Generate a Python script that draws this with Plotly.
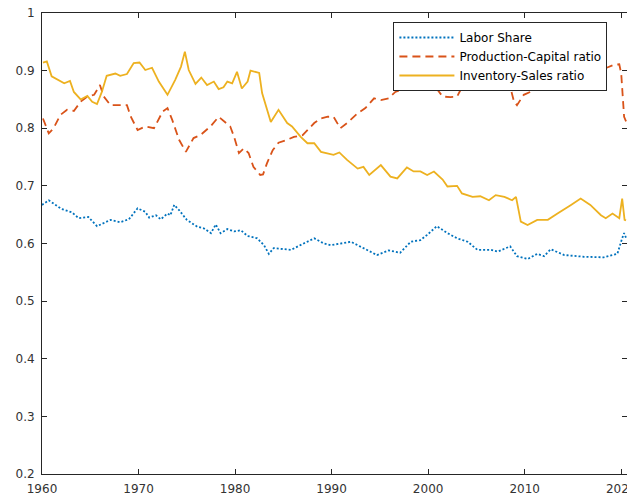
import plotly.graph_objects as go

# ---- data ----
labor_year = [1960.0, 1960.7, 1962.0, 1963.1, 1963.8, 1964.8, 1965.7, 1967.1, 1968.1, 1969.0,
              1969.9, 1970.7, 1971.1, 1971.8, 1972.3, 1973.0, 1973.3, 1973.7, 1974.2, 1975.0,
              1976.1, 1976.8, 1977.5, 1978.0, 1978.5, 1979.2, 1979.9, 1980.6, 1981.3, 1982.3,
              1983.0, 1983.5, 1984.0, 1985.8, 1987.1, 1988.2, 1989.2, 1989.9, 1992.0, 1993.3,
              1994.7, 1995.9, 1997.1, 1998.2, 1999.2, 1999.9, 2000.9, 2002.0, 2003.0, 2004.1,
              2005.1, 2006.5, 2007.2, 2008.5, 2009.2, 2010.3, 2011.3, 2012.0, 2012.7, 2014.1,
              2016.1, 2018.2, 2019.6, 2020.1, 2020.3, 2020.5]
labor_share = [0.667, 0.675, 0.660, 0.654, 0.644, 0.646, 0.630, 0.641, 0.637, 0.642,
               0.661, 0.655, 0.645, 0.649, 0.642, 0.652, 0.649, 0.667, 0.658, 0.641,
               0.629, 0.626, 0.618, 0.633, 0.618, 0.625, 0.621, 0.623, 0.613, 0.609,
               0.597, 0.582, 0.592, 0.589, 0.600, 0.609, 0.600, 0.597, 0.603, 0.592,
               0.580, 0.588, 0.584, 0.603, 0.606, 0.615, 0.630, 0.618, 0.609, 0.603,
               0.589, 0.589, 0.586, 0.595, 0.578, 0.573, 0.582, 0.578, 0.590, 0.580,
               0.577, 0.576, 0.582, 0.609, 0.618, 0.610]

pc_year = [1960.1, 1960.7, 1961.2, 1961.9, 1962.6, 1963.3, 1964.0, 1964.7, 1965.4, 1966.0,
           1966.4, 1967.1, 1967.8, 1968.8, 1969.2, 1969.9, 1970.7, 1971.6, 1972.5, 1973.0,
           1973.5, 1974.2, 1974.9, 1975.7, 1976.4, 1977.5, 1978.3, 1979.0, 1979.5, 1979.9,
           1980.4, 1980.9, 1981.4, 1981.9, 1982.6, 1982.9, 1983.3, 1983.9, 1984.5, 1985.4,
           1986.1, 1987.0, 1987.5, 1988.2, 1988.9, 1989.6, 1990.2, 1990.9, 1991.6, 1992.7,
           1993.5, 1994.4, 1995.1, 1995.9, 1996.6, 1997.5, 1998.5, 1999.0, 1999.6, 1999.9,
           2000.6, 2001.5, 2002.3, 2003.0, 2003.5, 2003.9, 2005.0, 2006.5, 2007.8, 2008.5,
           2008.9, 2009.2, 2009.9, 2011.0, 2011.7, 2012.4, 2013.0, 2013.7, 2014.1, 2015.5,
           2017.0, 2018.5, 2019.2, 2019.8, 2020.0, 2020.15, 2020.3, 2020.5]
prod_capital = [0.817, 0.791, 0.800, 0.823, 0.832, 0.830, 0.846, 0.855, 0.858, 0.875,
                0.855, 0.840, 0.840, 0.840, 0.820, 0.797, 0.803, 0.800, 0.829, 0.835,
                0.814, 0.780, 0.759, 0.783, 0.788, 0.804, 0.820, 0.811, 0.803, 0.785,
                0.757, 0.765, 0.757, 0.733, 0.719, 0.720, 0.739, 0.762, 0.775, 0.780,
                0.785, 0.788, 0.797, 0.809, 0.817, 0.820, 0.820, 0.800, 0.809, 0.826,
                0.835, 0.852, 0.849, 0.852, 0.863, 0.869, 0.875, 0.875, 0.884, 0.878,
                0.875, 0.855, 0.854, 0.855, 0.872, 0.884, 0.895, 0.900, 0.895, 0.872,
                0.846, 0.840, 0.858, 0.866, 0.869, 0.878, 0.875, 0.881, 0.877, 0.895,
                0.900, 0.905, 0.910, 0.911, 0.895, 0.860, 0.820, 0.812]

inv_year = [1960.1, 1960.5, 1961.0, 1961.6, 1962.3, 1962.9, 1963.3, 1964.0, 1964.7, 1965.2,
            1965.7, 1966.2, 1966.7, 1967.6, 1968.1, 1968.8, 1969.5, 1970.1, 1970.7, 1971.4,
            1972.1, 1973.0, 1973.8, 1974.4, 1974.8, 1975.2, 1975.9, 1976.5, 1977.1, 1977.8,
            1978.3, 1978.8, 1979.2, 1979.7, 1980.2, 1980.7, 1981.3, 1981.6, 1982.5, 1982.8,
            1983.7, 1984.5, 1985.4, 1985.9, 1986.8, 1987.5, 1988.2, 1988.9, 1989.6, 1990.2,
            1990.8, 1991.6, 1992.7, 1993.3, 1993.9, 1995.1, 1996.1, 1996.8, 1997.8, 1998.5,
            1999.2, 1999.9, 2000.6, 2001.5, 2002.0, 2003.0, 2003.5, 2004.6, 2005.4, 2006.3,
            2007.0, 2007.9, 2008.7, 2009.1, 2009.6, 2010.3, 2011.3, 2012.4, 2013.4, 2014.1,
            2014.8, 2015.8, 2016.8, 2017.9, 2018.4, 2019.1, 2019.8, 2020.1, 2020.35, 2020.5]
inv_sales = [0.914, 0.916, 0.890, 0.884, 0.878, 0.882, 0.863, 0.850, 0.856, 0.846,
             0.842, 0.863, 0.891, 0.895, 0.891, 0.894, 0.913, 0.914, 0.901, 0.905,
             0.881, 0.858, 0.884, 0.907, 0.933, 0.901, 0.877, 0.888, 0.875, 0.881,
             0.868, 0.871, 0.881, 0.878, 0.898, 0.869, 0.881, 0.900, 0.896, 0.861,
             0.811, 0.832, 0.809, 0.803, 0.785, 0.774, 0.774, 0.759, 0.757, 0.754,
             0.758, 0.745, 0.730, 0.733, 0.719, 0.736, 0.716, 0.713, 0.732, 0.725,
             0.725, 0.719, 0.725, 0.711, 0.699, 0.700, 0.687, 0.681, 0.682, 0.675,
             0.684, 0.681, 0.675, 0.681, 0.638, 0.632, 0.641, 0.641, 0.652, 0.659,
             0.667, 0.678, 0.667, 0.649, 0.644, 0.652, 0.644, 0.678, 0.641, 0.640]

x_ticks = [1960, 1970, 1980, 1990, 2000, 2010, 2020]
y_ticks = [0.2, 0.3, 0.4, 0.5, 0.6, 0.7, 0.8, 0.9, 1.0]
y_tick_labels = ["0.2", "0.3", "0.4", "0.5", "0.6", "0.7", "0.8", "0.9", "1"]

FONT = "DejaVu Sans"
AX = "#262626"

fig = go.Figure()
fig.add_trace(go.Scatter(x=labor_year, y=labor_share, mode="lines", name="Labor Share",
                         line=dict(color="#0072BD", width=1.8, dash="2px,2px")))
fig.add_trace(go.Scatter(x=pc_year, y=prod_capital, mode="lines", name="Production-Capital ratio",
                         line=dict(color="#D95319", width=1.8, dash="8px,5px")))
fig.add_trace(go.Scatter(x=inv_year, y=inv_sales, mode="lines", name="Inventory-Sales ratio",
                         line=dict(color="#EDB120", width=1.8)))

axis_common = dict(showline=True, linecolor=AX, linewidth=1, mirror="ticks",
                   ticks="inside", ticklen=5, tickcolor=AX, showgrid=False, zeroline=False,
                   ticklabeloverflow="allow", automargin=False,
                   tickfont=dict(family=FONT, size=12, color="#333333"))

fig.update_xaxes(range=[1960, 2020.6], tickvals=x_ticks, ticktext=[str(v) for v in x_ticks],
                 ticklabelstandoff=4, **axis_common)
fig.update_yaxes(range=[0.2, 1.0], tickvals=y_ticks, ticktext=y_tick_labels,
                 ticklabelstandoff=4, **axis_common)

# the page body adds an 8px offset, so the figure is sized/margined to compensate
fig.update_layout(
    width=627, height=493,
    margin=dict(l=34, r=8, t=5, b=27, pad=0, autoexpand=False),
    plot_bgcolor="white", paper_bgcolor="white",
    font=dict(family=FONT, size=12, color="#000000"),
    legend=dict(x=0.6007, y=0.9805, xanchor="left", yanchor="top",
                bgcolor="white", bordercolor=AX, borderwidth=1,
                font=dict(family=FONT, size=12, color="#000000"),
                itemwidth=55, tracegroupgap=0),
    showlegend=True,
)

fig.write_html("out.html")
